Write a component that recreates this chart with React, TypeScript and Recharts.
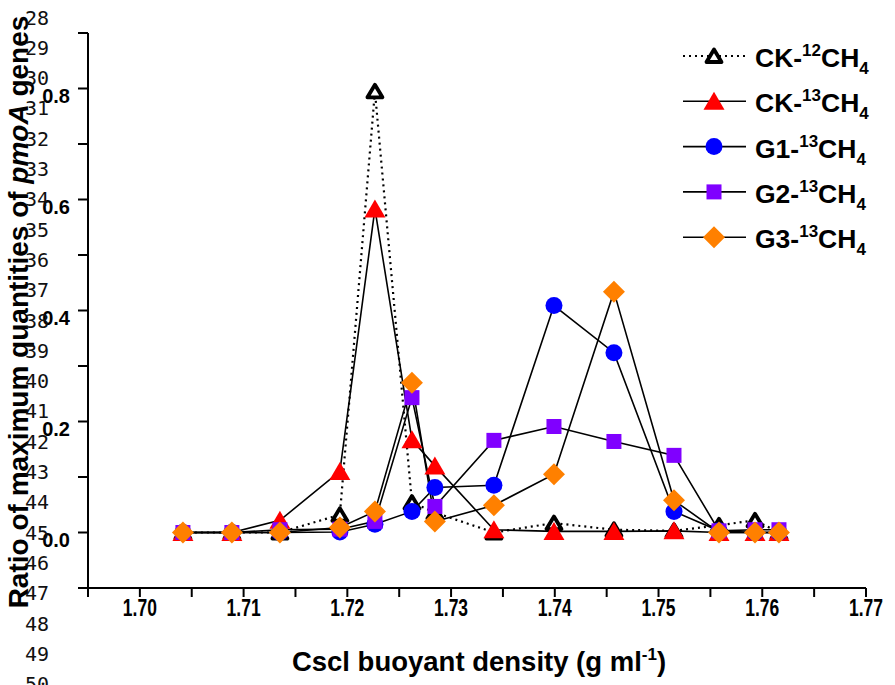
import React from 'react';
import { LineChart, Line, XAxis, YAxis } from 'recharts';

// CsCl buoyant density of each fraction (g ml-1)
const density = [1.70415, 1.70887, 1.7135, 1.71928, 1.72266, 1.72623, 1.72844, 1.73413, 1.73992, 1.7457, 1.75149, 1.75583, 1.7593, 1.76161];
// ratio of maximum quantities of pmoA genes
const ck12 = [0, 0, 0, 0.032, 0.795, 0.054, 0.036, 0, 0.017, 0.005, 0.003, 0.013, 0.022, 0];
const ck13 = [0, 0, 0.022, 0.11, 0.583, 0.167, 0.12, 0.005, 0.002, 0.002, 0.003, 0, 0, 0];
const g1 = [0, 0, 0, 0.001, 0.015, 0.038, 0.081, 0.085, 0.409, 0.324, 0.038, 0.003, 0, 0];
const g2 = [0, 0, 0.005, 0.006, 0.02, 0.243, 0.047, 0.166, 0.191, 0.164, 0.139, 0.003, 0.005, 0.005];
const g3 = [0, 0, 0, 0.009, 0.038, 0.27, 0.02, 0.049, 0.105, 0.434, 0.058, 0, 0, 0];

const xTicks = [1.695, 1.7, 1.705, 1.71, 1.715, 1.72, 1.725, 1.73, 1.735, 1.74, 1.745, 1.75, 1.755, 1.76, 1.765, 1.77];
const yTicks = [-0.1, 0, 0.1, 0.2, 0.3, 0.4, 0.5, 0.6, 0.7, 0.8, 0.9];
const lineNumbers = [28, 29, 30, 31, 32, 33, 34, 35, 36, 37, 38, 39, 40, 41, 42, 43, 44, 45, 46, 47, 48, 49, 50];

const series = [
  { key: 'ck12', name: 'CK-', iso: '12', kind: 'open', dashed: true },
  { key: 'ck13', name: 'CK-', iso: '13', kind: 'tri', dashed: false },
  { key: 'g1', name: 'G1-', iso: '13', kind: 'circle', dashed: false },
  { key: 'g2', name: 'G2-', iso: '13', kind: 'square', dashed: false },
  { key: 'g3', name: 'G3-', iso: '13', kind: 'diamond', dashed: false },
];

const FONT = '"Liberation Sans", Arial, sans-serif';

function Marker({ kind, cx, cy }: { kind: string; cx: number; cy: number }) {
  if (kind === 'open') {
    return (
      <polygon
        points={`${cx},${cy - 6.5} ${cx + 7.5},${cy + 6} ${cx - 7.5},${cy + 6}`}
        fill="#fff" stroke="#000" strokeWidth={3.8} strokeLinejoin="round"
      />
    );
  }
  if (kind === 'tri') {
    return <polygon points={`${cx},${cy - 9.5} ${cx + 10.5},${cy + 8.5} ${cx - 10.5},${cy + 8.5}`} fill="#ff0000" />;
  }
  if (kind === 'circle') return <circle cx={cx} cy={cy} r={8.5} fill="#0000ff" />;
  if (kind === 'square') return <rect x={cx - 7.5} y={cy - 7.5} width={15} height={15} fill="#8000ff" />;
  return <polygon points={`${cx},${cy - 11} ${cx + 11},${cy} ${cx},${cy + 11} ${cx - 11},${cy}`} fill="#ff8000" />;
}

const makeDot = (kind: string) => (props: any) => {
  const { cx, cy, index } = props;
  if (cx == null || cy == null) return <g key={`${kind}-${index}`} />;
  return (
    <g key={`${kind}-${index}`}>
      <Marker kind={kind} cx={cx} cy={cy} />
    </g>
  );
};

const XTick = (props: any) => {
  const { x, y, payload } = props;
  const v = payload.value as number;
  const major = Math.abs(Math.round(v * 1000)) % 10 === 0;
  if (!major) return <g />;
  return (
    <text x={x} y={y + 17} textAnchor="middle" fontSize={23} fontWeight="bold" fontFamily={FONT}
      fill="#000" textLength={34} lengthAdjust="spacingAndGlyphs">
      {v.toFixed(2)}
    </text>
  );
};

const YTick = (props: any) => {
  const { x, y, payload } = props;
  const v = payload.value as number;
  const r = Math.round(v * 10);
  if (r < 0 || r % 2 !== 0) return <g />;
  return (
    <text x={x} y={y + 14} textAnchor="end" fontSize={20} fontWeight="bold" fontFamily={FONT} fill="#000">
      {v.toFixed(1)}
    </text>
  );
};

export default function App() {
  const data = density.map((d, i) => ({ d, ck12: ck12[i], ck13: ck13[i], g1: g1[i], g2: g2[i], g3: g3[i] }));
  return (
    <div style={{ position: 'absolute', left: 0, top: 0, width: 895, height: 685, background: '#fff' }}>
      <LineChart width={895} height={685} data={data} margin={{ top: 33, right: 29, left: 28, bottom: 37 }}>
        <XAxis
          dataKey="d" type="number" domain={[1.695, 1.77]} ticks={xTicks} interval={0}
          allowDataOverflow height={60} tickSize={9} tickMargin={2}
          axisLine={{ stroke: '#000', strokeWidth: 2 }} tickLine={{ stroke: '#000', strokeWidth: 2 }}
          tick={XTick}
        />
        <YAxis
          type="number" domain={[-0.1, 0.9]} ticks={yTicks} interval={0} allowDataOverflow
          width={60} tickSize={10} tickMargin={8}
          axisLine={{ stroke: '#000', strokeWidth: 2 }} tickLine={{ stroke: '#000', strokeWidth: 2 }}
          tick={YTick}
        />
        {series.map((s) => (
          <Line
            key={s.key} dataKey={s.key} type="linear" stroke="#000"
            strokeWidth={s.dashed ? 2.2 : 1.6} strokeDasharray={s.dashed ? '2 4' : undefined}
            dot={makeDot(s.kind)} activeDot={false} isAnimationActive={false}
          />
        ))}
      </LineChart>
      <svg width={895} height={685} style={{ position: 'absolute', left: 0, top: 0, pointerEvents: 'none' }}>
        {/* Y axis title */}
        <text transform="rotate(-90, 28, 312)" x={28} y={312} textAnchor="middle" fontSize={28}
          fontWeight="bold" fontFamily={FONT} fill="#000">
          Ratio of maximum quantities of <tspan fontStyle="italic">pmoA</tspan> genes
        </text>
        {/* X axis title */}
        <text x={479} y={671} textAnchor="middle" fontSize={27.5} fontWeight="bold" fontFamily={FONT} fill="#000">
          Cscl buoyant density (g ml<tspan dy={-11} fontSize={17}>-1</tspan><tspan dy={11}>)</tspan>
        </text>
        {/* line numbers */}
        {lineNumbers.map((n, i) => (
          <text key={n} x={25} y={24.5 + i * 30.3} fontSize={20} fontFamily='"DejaVu Sans Mono", monospace' fill="#111">
            {n}
          </text>
        ))}
        {/* legend */}
        {series.map((s, i) => {
          const base = 67 + i * 45.3;
          const my = base - 11;
          return (
            <g key={s.key}>
              <line x1={683} x2={746} y1={my} y2={my} stroke="#000" strokeWidth={s.dashed ? 2 : 1.6}
                strokeDasharray={s.dashed ? '2 4' : undefined} />
              <Marker kind={s.kind} cx={714} cy={my} />
              <text x={755} y={base} fontSize={26.5} fontWeight="bold" fontFamily={FONT} fill="#000">
                {s.name}
                <tspan dy={-11} fontSize={17}>{s.iso}</tspan>
                <tspan dy={11}>CH</tspan>
                <tspan dy={7} fontSize={17}>4</tspan>
              </text>
            </g>
          );
        })}
      </svg>
    </div>
  );
}
